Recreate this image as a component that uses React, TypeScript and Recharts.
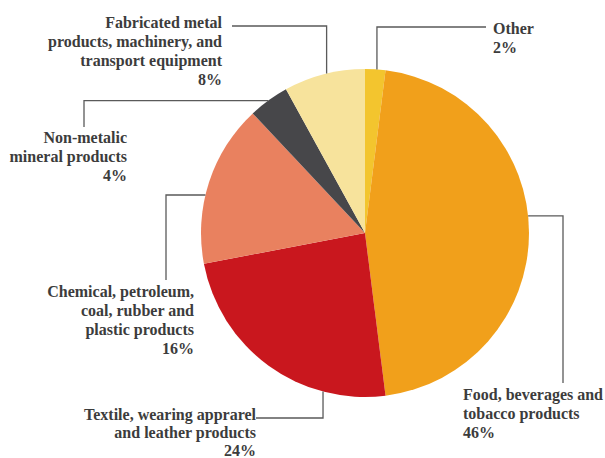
import React from "react";
import { PieChart, Pie, Cell } from "recharts";

const categories = [
  "Other",
  "Food, beverages and tobacco products",
  "Textile, wearing apprarel and leather products",
  "Chemical, petroleum, coal, rubber and plastic products",
  "Non-metalic mineral products",
  "Fabricated metal products, machinery, and transport equipment",
];
const shares = [2, 46, 24, 16, 4, 8];
const colors = ["#f3c52e", "#f1a01b", "#c9171e", "#e9815f", "#47474a", "#f7e39c"];
const labelLines: string[][] = [
  ["Other", "2%"],
  ["Food, beverages and", "tobacco products", "46%"],
  ["Textile, wearing apprarel", "and leather products", "24%"],
  ["Chemical, petroleum,", "coal, rubber and", "plastic products", "16%"],
  ["Non-metalic", "mineral products", "4%"],
  ["Fabricated metal", "products, machinery, and", "transport equipment", "8%"],
];

const data = categories.map((name, i) => ({ name, value: shares[i] }));

// label layout: where on the slice the leader attaches (fraction of its arc),
// leader direction first ('v' or 'h'), leader end point, text block placement
const layout = [
  { frac: 0.58, mode: "v", end: [486, 27], tx: 493, ty: 34, anchor: "start", lh: 19 },
  { frac: 0.464, mode: "h", end: [563, 383], tx: 463, ty: 400, anchor: "start", lh: 19 },
  { frac: 0.255, mode: "v", end: [256, 418], tx: 256, ty: 420, anchor: "end", lh: 18 },
  { frac: 0.42, mode: "h", end: [166, 280], tx: 194, ty: 297, anchor: "end", lh: 19 },
  { frac: 0.49, mode: "h", end: [84, 127], tx: 127, ty: 143, anchor: "end", lh: 19 },
  { frac: 0.53, mode: "v", end: [232, 26], tx: 222, ty: 28, anchor: "end", lh: 19 },
];

const RAD = Math.PI / 180;

const renderLabel = (props: any) => {
  const { cx, cy, outerRadius, startAngle, endAngle, index } = props;
  const L = layout[index];
  const ang = startAngle + (endAngle - startAngle) * L.frac;
  const ax = cx + outerRadius * Math.cos(ang * RAD);
  const ay = cy - outerRadius * Math.sin(ang * RAD);
  const [ex, ey] = L.end;
  const path =
    L.mode === "v"
      ? `M${ax},${ay} L${ax},${ey} L${ex},${ey}`
      : `M${ax},${ay} L${ex},${ay} L${ex},${ey}`;
  return (
    <g key={`lbl-${index}`}>
      <path d={path} fill="none" stroke="#5a5a5a" strokeWidth={1.3} />
      <text
        x={L.tx}
        y={L.ty}
        textAnchor={L.anchor}
        fontFamily="'Liberation Serif', 'Times New Roman', serif"
        fontWeight="bold"
        fontSize={16}
        fill="#3c3c3c"
      >
        {labelLines[index].map((line, j) => (
          <tspan key={j} x={L.tx} dy={j === 0 ? 0 : L.lh}>
            {line}
          </tspan>
        ))}
      </text>
    </g>
  );
};

export default function App() {
  return (
    <div style={{ position: "absolute", left: 0, top: 0, background: "#fff" }}>
      <PieChart width={605} height={458} margin={{ top: 0, right: 0, bottom: 0, left: 0 }}>
        <Pie
          data={data}
          dataKey="value"
          nameKey="name"
          cx={365}
          cy={233}
          outerRadius={164}
          startAngle={90}
          endAngle={-270}
          stroke="none"
          isAnimationActive={false}
          label={renderLabel}
          labelLine={false}
        >
          {data.map((d, i) => (
            <Cell key={d.name} fill={colors[i]} />
          ))}
        </Pie>
      </PieChart>
    </div>
  );
}
